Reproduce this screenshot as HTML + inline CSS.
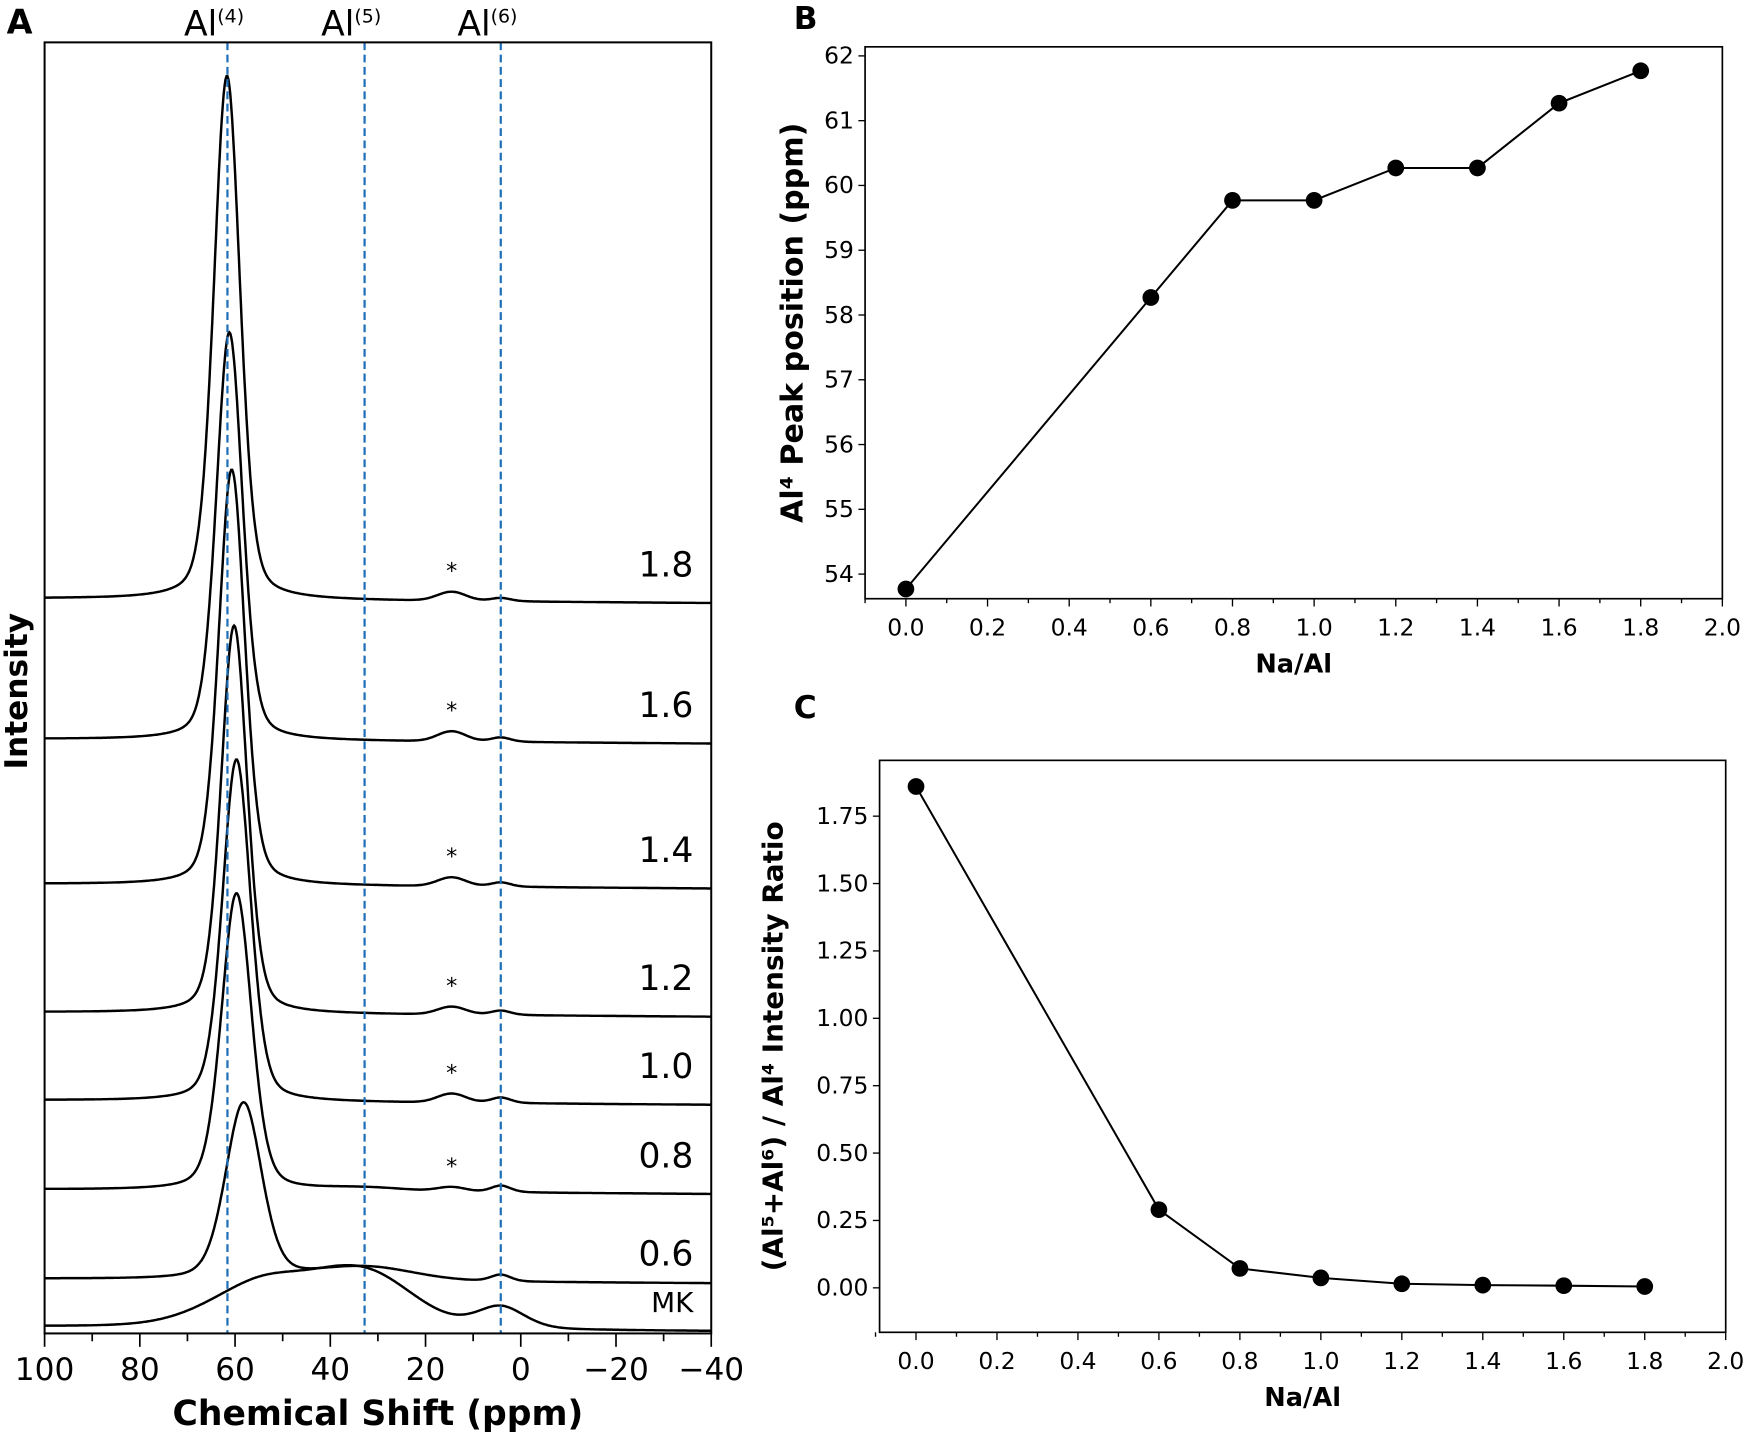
<!DOCTYPE html>
<html><head><meta charset="utf-8"><style>
body{margin:0;background:#fff}
svg{display:block}
text{font-family:"DejaVu Sans","Liberation Sans",sans-serif}
</style></head><body>
<svg id="fig" width="1748" height="1436" viewBox="0 0 1568 1288" preserveAspectRatio="none" xmlns="http://www.w3.org/2000/svg">
<g id="pa"></g>
<g id="pb"></g>
<g id="pc"></g>
</svg>
<script>
// ---------- Panel A data ----------
const traceLabels = ["1.8","1.6","1.4","1.2","1.0","0.8","0.6","MK"];
const traceBaselines = [537,663,793,908,987,1067,1147,1190];
const mainPeakPos = [61.7,61.2,60.7,60.2,59.7,59.7,58.2,54];
const mainPeakHeight = [470,366,373,348,307,267,159,42];
const mainPeakWidth = [6.5,6.5,6.5,6.5,7,7.5,9,26];
const al5Height = [0,0,0,0,0,3,12,47];
const al5Width = [20,20,20,20,20,20,24,24];
const starBumpHeight = [8,9,8,7,8,4,0,0];
const al6Height = [3,4,4,4,5,6,6,20];
const refLines = [61.6,32.8,4.2];
const refLabels = ["(4)","(5)","(6)"];
const xTicksA = [100,80,60,40,20,0,-20,-40];
// ---------- Panel B data ----------
const naAl = [0,0.6,0.8,1.0,1.2,1.4,1.6,1.8];
const peakPos = [53.77,58.27,59.77,59.77,60.27,60.27,61.27,61.77];
const yTicksB = [54,55,56,57,58,59,60,61,62];
const xTicks = [0.0,0.2,0.4,0.6,0.8,1.0,1.2,1.4,1.6,1.8,2.0];
// ---------- Panel C data ----------
const ratio = [1.86,0.29,0.072,0.037,0.015,0.01,0.008,0.005];
const yTicksC = [0,0.25,0.5,0.75,1.0,1.25,1.5,1.75];

const NS="http://www.w3.org/2000/svg";
function mk(parent,tag,attrs,txt){const e=document.createElementNS(NS,tag);for(const k in attrs)e.setAttribute(k,attrs[k]);if(txt!==undefined)e.textContent=txt;parent.appendChild(e);return e;}

// ---- Panel A ----
const pa=document.getElementById('pa');
const AL=40,AR=638,AT=38,AB=1196;
const xA=v=>AL+(100-v)*(AR-AL)/140;
function pv(x,c,w){const g=Math.exp(-4*Math.LN2*((x-c)/w)**2);const l=1/(1+4*((x-c)/w)**2);return 0.7*g+0.3*l;}
traceLabels.forEach((lab,i)=>{
  let d="";
  for(let k=0;k<=700;k++){
    const ppm=100-140*k/700;
    let h=mainPeakHeight[i]*pv(ppm,mainPeakPos[i],mainPeakWidth[i]);
    h+=al5Height[i]*Math.exp(-4*Math.LN2*((ppm-32.8)/al5Width[i])**2);
    h+=starBumpHeight[i]*Math.exp(-4*Math.LN2*((ppm-14.5)/7)**2);
    h+=al6Height[i]*pv(ppm,4.2,i==7?12:5);
    const y=traceBaselines[i]+(k/700)*4-h;
    d+=(k?"L":"M")+xA(ppm).toFixed(1)+","+y.toFixed(1);
  }
  const p=mk(pa,'path',{d:d,fill:'none',stroke:'#000','stroke-width':2.2});
  
  
  const t=mk(pa,'text',{x:622,y:traceBaselines[i]-(i==7?13:i==6?12:20),'text-anchor':'end','font-size':i==7?25:31,'font-family':'"Liberation Sans",sans-serif'},lab);
  
  
  if(starBumpHeight[i]>0){
    const s=mk(pa,'text',{x:xA(14.5),y:traceBaselines[i]-starBumpHeight[i]-10,'text-anchor':'middle','font-size':20},'*');
    
    
  }
});
refLines.forEach((v,i)=>{
  const l=mk(pa,'line',{x1:xA(v),x2:xA(v),y1:AT,y2:AB,stroke:'#1f6fb8','stroke-width':2,'stroke-dasharray':'7,4'});
  
  
  const t=mk(pa,'text',{x:xA(v)-12,y:32,'text-anchor':'middle','font-size':31,'font-family':'"Liberation Sans",sans-serif'},'Al');
  
  
  mk(t,'tspan',{'font-size':17,dy:-12},refLabels[i]);
});
mk(pa,'rect',{x:AL,y:AT,width:AR-AL,height:AB-AT,fill:'none',stroke:'#000','stroke-width':1.8});
for(let v=100;v>=-40;v-=10){
  const big=v%20===0;
  mk(pa,'line',{x1:xA(v),x2:xA(v),y1:AB,y2:AB+(big?12:7),stroke:'#000','stroke-width':1.5});
}
xTicksA.forEach(v=>{const t=mk(pa,'text',{x:xA(v),y:1238,'text-anchor':'middle','font-size':28},v<0?'\u2212'+(-v):v);
  });
let t=mk(pa,'text',{x:339,y:1278,'text-anchor':'middle','font-size':31,'font-weight':'bold'},'Chemical Shift (ppm)');

t=mk(pa,'text',{x:0,y:0,'text-anchor':'middle','font-size':28,'font-weight':'bold',transform:'translate(24,620) rotate(-90)'},'Intensity');

t=mk(pa,'text',{x:6,y:30,'font-size':30,'font-weight':'bold'},'A');


// ---- generic scatter-line panel ----
function panel(g,L,R,T,B,xmin,xmax,ymin,ymax,xs,ys,yt,fmt,ytitle,letter,ly,tx,tfs){
  const X=v=>L+(v-xmin)/(xmax-xmin)*(R-L);
  const Y=v=>B-(v-ymin)/(ymax-ymin)*(B-T);
  mk(g,'rect',{x:L,y:T,width:R-L,height:B-T,fill:'none',stroke:'#000','stroke-width':1.5});
  for(let v=-0.1;v<=2.001;v+=0.1){const x=X(v);const big=Math.abs(Math.round(v*10)%2)===0;
    mk(g,'line',{x1:x,x2:x,y1:B,y2:B+(big?7:4),stroke:'#000','stroke-width':1.2});}
  xTicks.forEach(v=>{const e=mk(g,'text',{x:X(v),y:B+33,'text-anchor':'middle','font-size':21},v.toFixed(1));
    });
  yt.forEach(v=>{mk(g,'line',{x1:L-6,x2:L,y1:Y(v),y2:Y(v),stroke:'#000','stroke-width':1.2});
    const e=mk(g,'text',{x:L-10,y:Y(v)+7,'text-anchor':'end','font-size':21},fmt(v));
    });
  let d="";xs.forEach((x,i)=>d+=(i?"L":"M")+X(x)+","+Y(ys[i]));
  const ln=mk(g,'path',{d:d,fill:'none',stroke:'#000','stroke-width':1.8});
  
  xs.forEach((x,i)=>{const c=mk(g,'circle',{cx:X(x),cy:Y(ys[i]),r:7.5,fill:'#000'});
    });
  let e=mk(g,'text',{x:(L+R)/2,y:B+66,'text-anchor':'middle','font-size':23,'font-weight':'bold'},'Na/Al');
  
  e=mk(g,'text',{x:0,y:0,'text-anchor':'middle','font-size':tfs,'font-weight':'bold',transform:'translate('+tx+','+((T+B)/2)+') rotate(-90)'},ytitle);
  
  e=mk(g,'text',{x:712,y:ly,'font-size':28,'font-weight':'bold'},letter);
  
}
panel(document.getElementById('pb'),776,1545,42,537,-0.1,2.0,53.62,62.14,naAl,peakPos,yTicksB,v=>String(v),'Al\u2074 Peak position (ppm)','B',26,720,27);
panel(document.getElementById('pc'),789,1548,682,1195,-0.09,2.0,-0.165,1.957,naAl,ratio,yTicksC,v=>v.toFixed(2),'(Al\u2075+Al\u2076) / Al\u2074 Intensity Ratio','C',644,702,25);
</script>
</body></html>
